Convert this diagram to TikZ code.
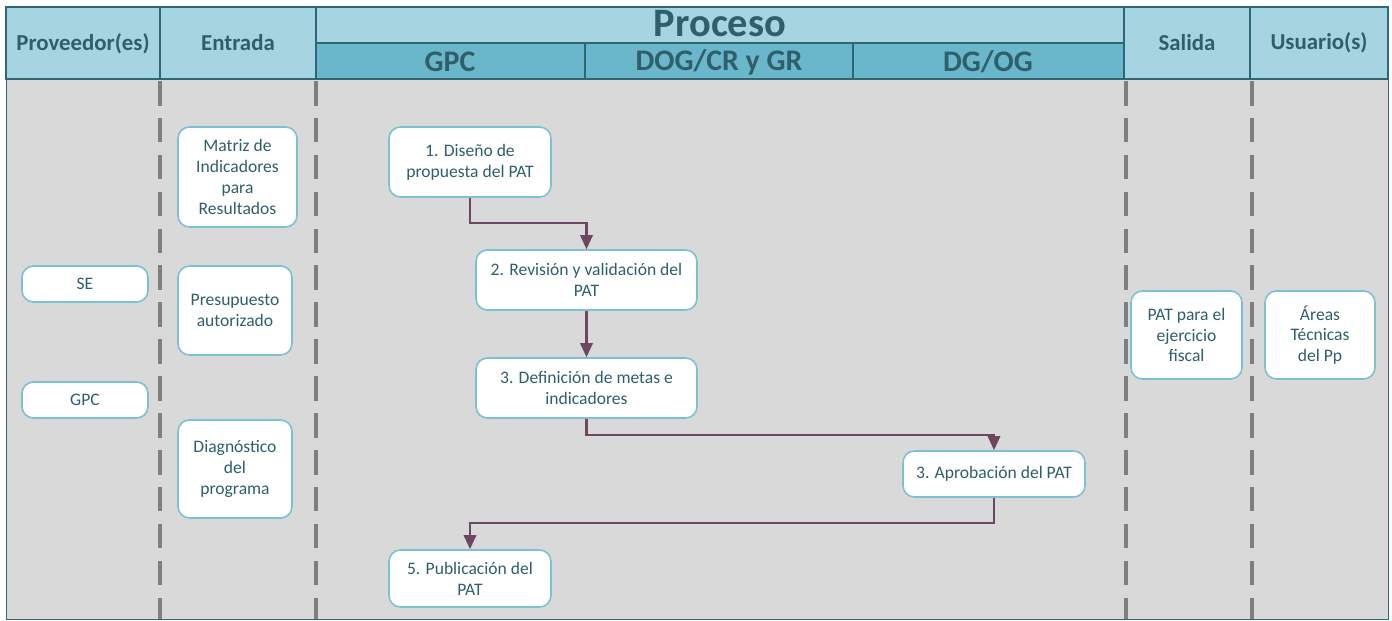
\documentclass[tikz,border=0pt]{standalone}
\usepackage{fontspec}
\setmainfont{Carlito}
\usetikzlibrary{arrows.meta}
\definecolor{cabeza}{HTML}{A6D4E0}
\definecolor{subcabeza}{HTML}{6AB6CB}
\definecolor{borde}{HTML}{2F6874}
\definecolor{texto}{HTML}{2F5F6B}
\definecolor{fondo}{HTML}{D9D9D9}
\definecolor{marco}{HTML}{7BC1D0}
\definecolor{flecha}{HTML}{6D4662}
\definecolor{guion}{HTML}{7F7F7F}
\tikzset{
  celda/.style={draw=borde, line width=1pt, fill=cabeza},
  caja/.style={draw=marco, line width=0.9pt, fill=white, rounded corners=6.5pt,
    align=center, text=texto, font=\fontsize{10}{11.9}\selectfont, inner sep=2pt},
  flujo/.style={draw=flecha, line width=1.4pt, -{Triangle[width=7pt,length=8pt]}},
  titulo/.style={text=texto, font=\bfseries\fontsize{13}{15}\selectfont},
  subtitulo/.style={titulo, font=\bfseries\fontsize{17}{19}\selectfont},
}
\begin{document}
\begin{tikzpicture}[x=0.02cm, y=-0.02cm]
	\useasboundingbox (0,0) rectangle (1392,621);
	\fill[white] (0,0) rectangle (1392,621);
	\draw[borde, fill=fondo] (6,79) rectangle (1388,619);
	\draw[celda] (6,7) rectangle (160,79);
	\draw[celda] (160,7) rectangle (316,79);
	\draw[celda] (316,7) rectangle (1124,43);
	\draw[celda, fill=subcabeza] (316,43) rectangle (585,79);
	\draw[celda, fill=subcabeza] (585,43) rectangle (853,79);
	\draw[celda, fill=subcabeza] (853,43) rectangle (1124,79);
	\draw[celda] (1124,7) rectangle (1250,79);
	\draw[celda] (1250,7) rectangle (1388,79);
	\foreach \x in {160,316,1126,1252}
	{
		\draw[guion, line width=2.8pt, dash pattern=on 14pt off 7pt] (\x,81) -- (\x,619);
	}
	\node[titulo] (prov) at (83,44) {Proveedor(es)};
	\node[titulo] (ent) at (238,43) {Entrada};
	\node[titulo, font=\bfseries\fontsize{23}{25}\selectfont] (proc) at (720,24) {Proceso};
	\node[subtitulo] (gpc) at (450,62) {GPC};
	\node[subtitulo] (dog) at (719,62) {DOG/CR y GR};
	\node[subtitulo] (dg) at (988,62) {DG/OG};
	\node[titulo] (sal) at (1187,43) {Salida};
	\node[titulo] (usu) at (1319,43) {Usuario(s)};

	\node[caja, minimum width=2.52cm, minimum height=0.72cm] (se) at (85,284) {SE};
	\node[caja, minimum width=2.52cm, minimum height=0.72cm] (gpcp) at (85,400) {GPC};

	\node[caja, minimum width=2.38cm, minimum height=2cm] (mir) at (237.5,177) {Matriz de\\Indicadores\\para\\Resultados};
	\node[caja, minimum width=2.28cm, minimum height=1.78cm] (pre) at (235,310.5) {Presupuesto\\autorizado};
	\node[caja, minimum width=2.28cm, minimum height=1.96cm] (diag) at (235,469) {Diagnóstico\\del\\programa};

	\node[caja, minimum width=3.24cm, minimum height=1.4cm] (d1) at (470,162) {1. Diseño de\\propuesta del PAT};
	\node[caja, minimum width=4.42cm, minimum height=1.2cm] (d2) at (586.5,280) {2. Revisión y validación del\\PAT};
	\node[caja, minimum width=4.42cm, minimum height=1.2cm] (d3) at (586.5,388) {3. Definición de metas e\\indicadores};
	\node[caja, minimum width=3.64cm, minimum height=0.92cm] (d4) at (994,474) {3. Aprobación del PAT};
	\node[caja, minimum width=3.24cm, minimum height=1.14cm] (d5) at (470,578.5) {5. Publicación del\\PAT};

	\node[caja, minimum width=2.22cm, minimum height=1.76cm] (pat) at (1186.5,335) {PAT para el\\ejercicio\\fiscal};
	\node[caja, minimum width=2.2cm, minimum height=1.76cm] (areas) at (1320,335) {Áreas\\Técnicas\\del Pp};

	\draw[flujo] (d1.south) -- ++(0,25) -| (d2.north);
	\draw[flujo] (d2) -- (d3);
	\draw[flujo] (d3.south) -- ++(0,16) -| (d4.north);
	\draw[flujo] (d4.south) -- ++(0,25) -| (d5.north);
\end{tikzpicture}
\end{document}
